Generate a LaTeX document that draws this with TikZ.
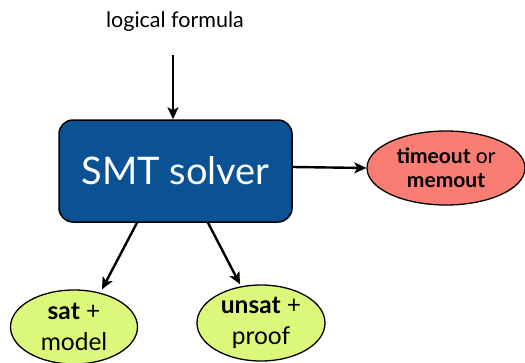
\documentclass[tikz,border=0pt]{standalone}
\usepackage{fontspec}
\setmainfont{Lato}
\usetikzlibrary{shapes.geometric,arrows.meta}
\definecolor{solverblue}{RGB}{10,82,148}
\definecolor{failred}{RGB}{250,125,115}
\definecolor{okgreen}{RGB}{220,248,122}
\tikzset{
  conn/.style={line width=2.4pt,-{Stealth[length=12pt,width=11pt,inset=3pt]}},
  solverbox/.style={draw=black,line width=1.5pt,fill=solverblue,rounded corners=14pt,
    minimum width=233pt,minimum height=102pt,text=white,font=\fontsize{38}{40}\selectfont},
  outcome/.style={draw=black,line width=1.3pt,ellipse,inner sep=0pt,align=center},
}
\begin{document}
\begin{tikzpicture}[x=1pt,y=-1pt]
\useasboundingbox (0,0) rectangle (525,362);
\node[font=\fontsize{21.5}{23}\selectfont] (in) at (175,22) {logical formula};
\node[solverbox] (smt) at (175.5,171) {SMT solver};
\node[outcome,fill=failred,minimum width=158pt,minimum height=74pt,
  font=\fontsize{21}{24}\selectfont] (to) at (446,168) {\textbf{timeout} or\\\textbf{memout}};
\node[outcome,fill=okgreen,minimum width=127pt,minimum height=74pt,
  font=\fontsize{24.5}{31}\selectfont] (sat) at (74,327) {\textbf{sat} +\\model};
\node[outcome,fill=okgreen,minimum width=128pt,minimum height=76pt,
  font=\fontsize{24.5}{31}\selectfont] (unsat) at (261,323) {\textbf{unsat} +\\proof};
\coordinate (src) at (173,55);
\draw[conn] (src) -- (smt.north -| src);
\draw[conn] (smt.east |- 0,167) -- (to.west);
\draw[conn] (smt.south -| 137,0) -- (sat.north -| 102,0);
\draw[conn] (smt.south -| 208,0) -- (unsat.north -| 240,0);
\end{tikzpicture}
\end{document}
